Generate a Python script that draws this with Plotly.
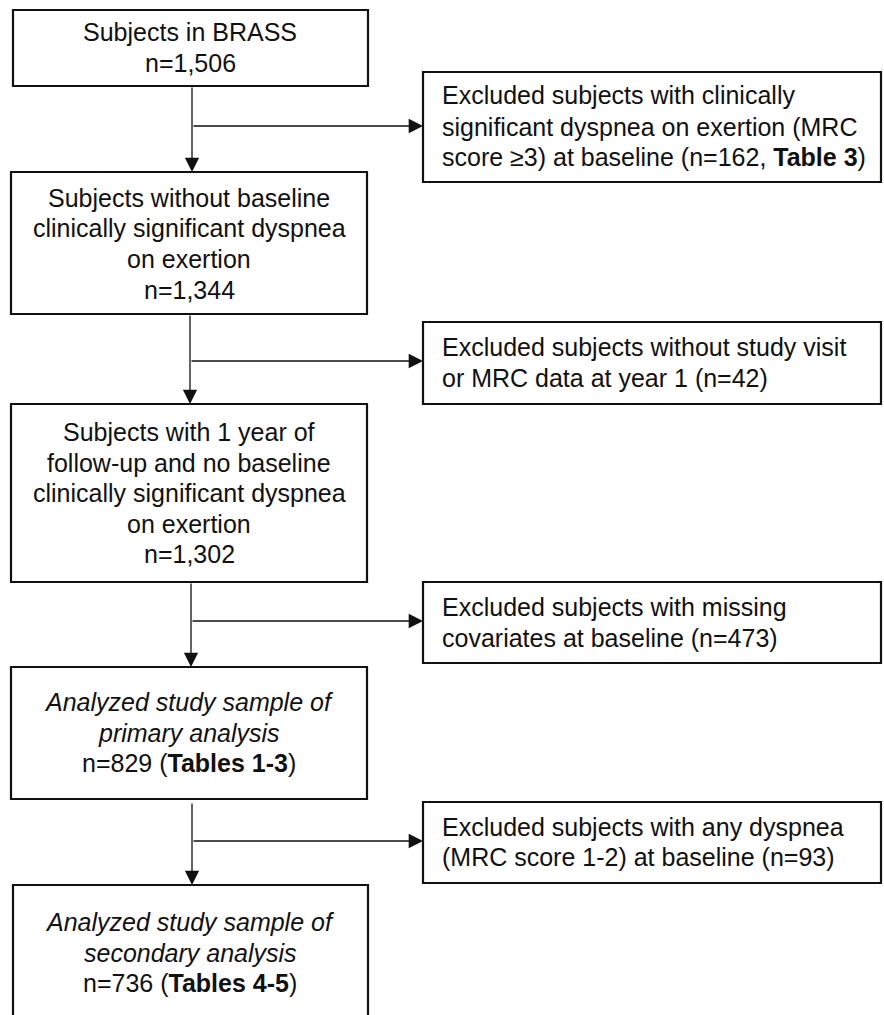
import plotly.graph_objects as go

# ---------------- data ----------------
main_counts = [1506, 1344, 1302, 829, 736]
excluded_counts = [162, 42, 473, 93]

main_labels = [
    ["Subjects in BRASS"],
    ["Subjects without baseline", "clinically significant dyspnea", "on exertion"],
    ["Subjects with 1 year of", "follow-up and no baseline", "clinically significant dyspnea", "on exertion"],
    ["<i>Analyzed study sample of</i>", "<i>primary analysis</i>"],
    ["<i>Analyzed study sample of</i>", "<i>secondary analysis</i>"],
]
main_suffix = ["", "", "", " (<b>Tables 1-3</b>)", " (<b>Tables 4-5</b>)"]

excluded_labels = [
    ["Excluded subjects with clinically",
     "significant dyspnea on exertion (MRC",
     "score \u22653) at baseline (n={n}, <b>Table 3</b>)"],
    ["Excluded subjects without study visit",
     "or MRC data at year 1 (n={n})"],
    ["Excluded subjects with missing",
     "covariates at baseline (n={n})"],
    ["Excluded subjects with any dyspnea",
     "(MRC score 1-2) at baseline (n={n})"],
]

# ---------------- layout geometry (pixels) ----------------
W, H = 884, 1015
main_boxes = [(13, 10, 368, 86), (11, 172, 367, 314), (11, 404, 367, 582),
              (11, 667, 367, 799), (13, 885, 368, 1040)]
main_line_y = [[32, 63], [198, 228, 259, 290], [432, 463, 493, 524, 554],
               [702, 733, 763], [922, 953, 983]]
main_cx = [190, 189, 189, 189, 190]

ex_boxes = [(423, 72, 881, 182), (423, 322, 881, 404), (423, 582, 881, 663), (423, 802, 881, 883)]
ex_line_y = [[95, 127, 157], [347, 378], [607, 638], [827, 857]]
ex_text_x = 440

conn_x = [192, 190, 191, 192]
conn_from = [86, 314, 582, 802]
conn_to = [172, 404, 667, 885]
branch_y = [126, 361, 621, 841]

FONT = dict(family="Liberation Sans, Arial, sans-serif", size=25, color="#111111")
BORDER = dict(color="#111111", width=2.2)
LINE_W = 1.3

fig = go.Figure()
shapes = []
annotations = []

# main boxes
for i, (x0, y0, x1, y1) in enumerate(main_boxes):
    shapes.append(dict(type="rect", x0=x0, y0=y0, x1=x1, y1=y1, line=BORDER,
                       fillcolor="white", layer="below"))
    lines = list(main_labels[i]) + [f"n={main_counts[i]:,}{main_suffix[i]}"]
    for txt, y in zip(lines, main_line_y[i]):
        annotations.append(dict(x=main_cx[i], y=y, text=txt, showarrow=False,
                                xanchor="center", yanchor="middle", font=FONT))

# excluded boxes
for i, (x0, y0, x1, y1) in enumerate(ex_boxes):
    shapes.append(dict(type="rect", x0=x0, y0=y0, x1=x1, y1=y1, line=BORDER,
                       fillcolor="white", layer="below"))
    for txt, y in zip(excluded_labels[i], ex_line_y[i]):
        annotations.append(dict(x=ex_text_x, y=y, text=txt.format(n=excluded_counts[i]),
                                showarrow=False, xanchor="left", yanchor="middle", font=FONT))

# connectors
for i in range(4):
    annotations.append(dict(x=conn_x[i], y=conn_to[i], ax=conn_x[i], ay=conn_from[i],
                            xref="x", yref="y", axref="x", ayref="y", text="",
                            showarrow=True, arrowhead=2, arrowsize=2.2, arrowwidth=LINE_W,
                            arrowcolor="#111111", standoff=0))
    annotations.append(dict(x=ex_boxes[i][0], y=branch_y[i], ax=conn_x[i], ay=branch_y[i],
                            xref="x", yref="y", axref="x", ayref="y", text="",
                            showarrow=True, arrowhead=2, arrowsize=2.2, arrowwidth=LINE_W,
                            arrowcolor="#111111", standoff=0))

fig.update_layout(
    width=W, height=H,
    margin=dict(l=0, r=0, t=0, b=0),
    paper_bgcolor="white", plot_bgcolor="white",
    xaxis=dict(range=[0, W], visible=False, fixedrange=True),
    yaxis=dict(range=[H, 0], visible=False, fixedrange=True),
    shapes=shapes, annotations=annotations, showlegend=False,
)

fig.write_html(
    "out.html",
    config={"displayModeBar": False},
    post_script="document.body.style.margin='0';document.body.style.overflow='hidden';",
)
